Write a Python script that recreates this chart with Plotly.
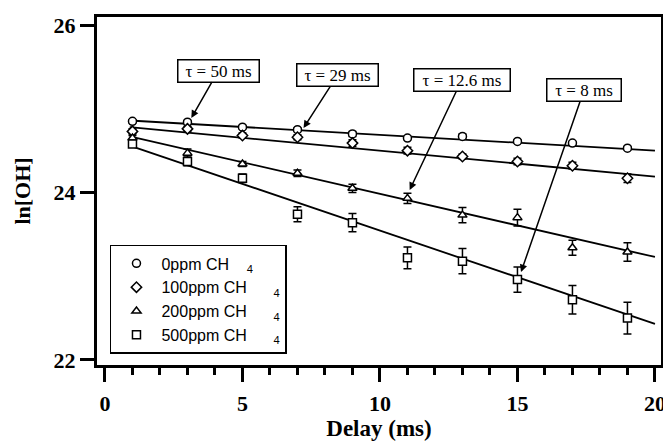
import plotly.graph_objects as go

# ---- data ----
delay = [1, 3, 5, 7, 9, 11, 13, 15, 17, 19]

ppm0 = [24.85, 24.84, 24.78, 24.75, 24.70, 24.65, 24.67, 24.61, 24.59, 24.53]
ppm100 = [24.73, 24.76, 24.68, 24.66, 24.59, 24.50, 24.43, 24.37, 24.32, 24.17]
ppm200 = [24.65, 24.47, 24.34, 24.23, 24.05, 23.93, 23.73, 23.70, 23.34, 23.29]
ppm500 = [24.58, 24.37, 24.17, 23.74, 23.64, 23.22, 23.18, 22.96, 22.72, 22.50]

err0 = [0.02, 0.02, 0.02, 0.02, 0.03, 0.02, 0.03, 0.02, 0.02, 0.02]
err100 = [0.03, 0.03, 0.03, 0.03, 0.04, 0.04, 0.03, 0.04, 0.04, 0.05]
err200 = [0.03, 0.05, 0.03, 0.04, 0.05, 0.06, 0.09, 0.10, 0.09, 0.11]
err500 = [0.03, 0.05, 0.05, 0.09, 0.11, 0.13, 0.15, 0.15, 0.17, 0.19]

fit_x = [0.9, 20]
fit0 = [24.86, 24.50]
fit100 = [24.78, 24.19]
fit200 = [24.67, 23.23]
fit500 = [24.56, 22.43]

series_names = ["0ppm CH", "100ppm CH", "200ppm CH", "500ppm CH"]
series_gaps = [4, 6, 6, 6]
symbols = ["circle", "diamond", "triangle-up", "square"]

tau_labels = ["τ = 50 ms", "τ = 29 ms", "τ = 12.6 ms", "τ = 8 ms"]
tau_x = [3.14, 7.22, 11.08, 15.13]
tau_y = [24.89, 24.77, 24.03, 23.05]
tau_ax = [27, 34, 52, 63]
tau_ay = [-47, -53, -110, -182]
tau_w = [78, 78, 93, 71]

values = [ppm0, ppm100, ppm200, ppm500]
errors = [err0, err100, err200, err500]
fits = [fit0, fit100, fit200, fit500]

SERIF = "Liberation Serif, Times New Roman, serif"
SANS = "Liberation Sans, Arial, sans-serif"

fig = go.Figure()

for f in fits:
    fig.add_trace(go.Scatter(x=fit_x, y=f, mode="lines",
                             line=dict(color="black", width=1.8),
                             showlegend=False, hoverinfo="skip"))

for name, gap, sym, v, e in zip(series_names, series_gaps, symbols, values, errors):
    fig.add_trace(go.Scatter(
        x=delay, y=v, mode="markers",
        name=name + "\u00a0" * gap + "<sub>4</sub>",
        marker=dict(symbol=sym, size=8, color="white",
                    line=dict(color="black", width=1.5)),
        error_y=dict(type="data", array=e, visible=True,
                     color="black", thickness=1.5, width=4),
    ))

for lab, tx, ty, ax, ay, w in zip(tau_labels, tau_x, tau_y, tau_ax, tau_ay, tau_w):
    fig.add_annotation(
        x=tx, y=ty, xref="x", yref="y", ax=ax, ay=ay,
        text=lab, showarrow=True, arrowhead=2, arrowsize=1,
        arrowwidth=1.5, arrowcolor="black",
        font=dict(family=SERIF, size=17, color="black"),
        bgcolor="white", bordercolor="black", borderwidth=1.5,
        borderpad=1, width=w,
    )

# the page body adds an 8 px margin, so the figure is sized to fit the window
fig.update_layout(
    width=663, height=435, autosize=False,
    margin=dict(l=89, r=10, t=9, b=78, autoexpand=False),
    paper_bgcolor="white", plot_bgcolor="white",
    showlegend=True,
    legend=dict(x=0.023, y=0.345, xanchor="left", yanchor="top",
                bordercolor="black", borderwidth=1.5, bgcolor="white",
                font=dict(family=SANS, size=16, color="black"),
                itemwidth=40),
)

fig.update_xaxes(
    automargin=False,
    range=[-0.29, 20.22], tickmode="linear", tick0=0, dtick=5,
    showgrid=False, zeroline=False,
    showline=True, linecolor="black", linewidth=3, mirror=True,
    ticks="outside", ticklen=14, tickwidth=3, tickcolor="black",
    minor=dict(dtick=1, tick0=0, ticks="outside", ticklen=7, tickwidth=3,
               tickcolor="black", showgrid=False),
    ticklabelstandoff=3,
    tickfont=dict(family=SERIF, size=22, color="black", weight="bold"),
    title=dict(text="Delay (ms)", standoff=3,
               font=dict(family=SERIF, size=23, color="black", weight="bold")),
)

fig.update_yaxes(
    automargin=False,
    range=[21.94, 26.096], tickmode="linear", tick0=22, dtick=2,
    showgrid=False, zeroline=False,
    showline=True, linecolor="black", linewidth=3, mirror=True,
    ticks="outside", ticklen=14, tickwidth=3, tickcolor="black",
    tickfont=dict(family=SERIF, size=22, color="black", weight="bold"),
    title=dict(text="ln[OH]", standoff=17,
               font=dict(family=SERIF, size=22, color="black", weight="bold")),
)

fig.write_html("out.html")
